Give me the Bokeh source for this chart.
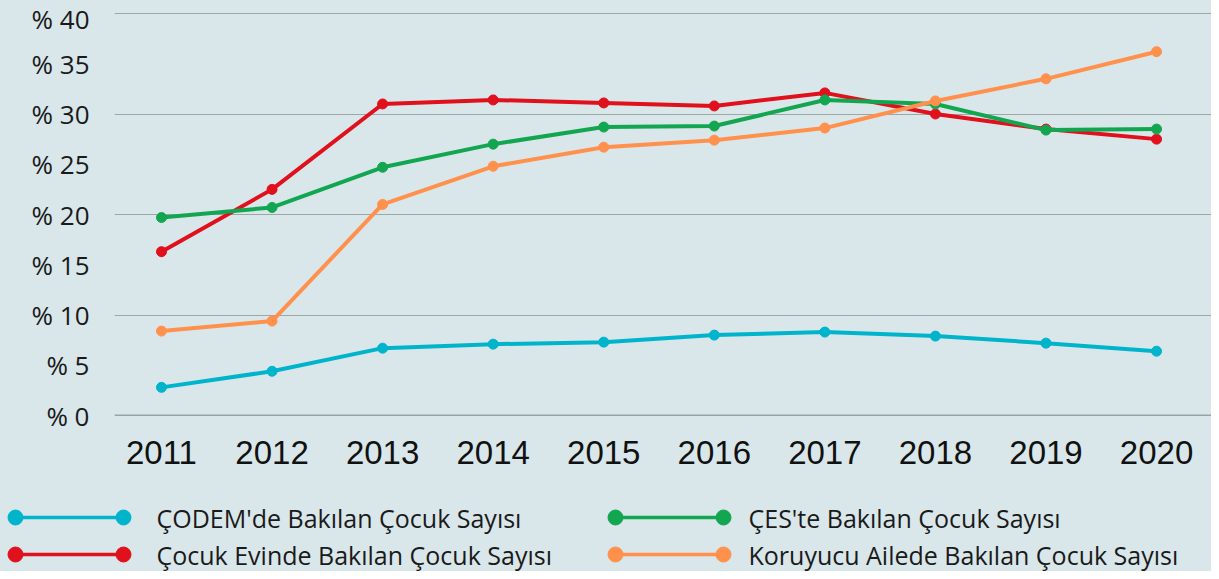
from bokeh.plotting import figure
from bokeh.models import Range1d, FixedTicker, Span
from bokeh.layouts import column
from bokeh.core.properties import value
from bokeh.embed import file_html
from bokeh.resources import INLINE

years = [2011, 2012, 2013, 2014, 2015, 2016, 2017, 2018, 2019, 2020]
codem = [2.8, 4.4, 6.7, 7.1, 7.3, 8.0, 8.3, 7.9, 7.2, 6.4]
ces = [19.7, 20.7, 24.7, 27.0, 28.7, 28.8, 31.4, 31.0, 28.4, 28.5]
cocuk_evi = [16.3, 22.5, 31.0, 31.4, 31.1, 30.8, 32.1, 30.0, 28.5, 27.5]
koruyucu = [8.4, 9.4, 21.0, 24.8, 26.7, 27.4, 28.6, 31.3, 33.5, 36.2]
y_ticks = [0, 5, 10, 15, 20, 25, 30, 35, 40]
grid_ticks = [10, 20, 30, 40]

names = ["ÇODEM'de Bakılan Çocuk Sayısı", "Çocuk Evinde Bakılan Çocuk Sayısı",
         "ÇES'te Bakılan Çocuk Sayısı", "Koruyucu Ailede Bakılan Çocuk Sayısı"]
colors = ["#00b4cb", "#e0101c", "#13a651", "#ff914d"]
series = [codem, cocuk_evi, ces, koruyucu]

BG = "#d9e7ea"
W = 1211
H1 = 483
H2 = 88

p = figure(width=W, height=H1, output_backend="svg", toolbar_location=None,
           x_range=Range1d(2010.575, 2020.497), y_range=Range1d(0, 40.2),
           min_border_left=114, min_border_right=0, min_border_top=11, min_border_bottom=68)
p.frame_align = False
p.background_fill_color = BG
p.border_fill_color = BG
p.outline_line_color = None

p.xaxis.ticker = FixedTicker(ticks=years)
p.xaxis.major_label_overrides = {y: str(y) for y in years}
p.xaxis.axis_line_color = None
p.xaxis.major_tick_line_color = None
p.xaxis.minor_tick_line_color = None
p.xaxis.major_label_standoff = 19
p.xaxis.major_label_text_font = "Liberation Sans"
p.xaxis.major_label_text_font_size = "33px"
p.xaxis.major_label_text_color = "#111111"

p.yaxis.ticker = FixedTicker(ticks=y_ticks)
p.yaxis.major_label_overrides = {t: "% " + str(t) for t in y_ticks}
p.yaxis.axis_line_color = None
p.yaxis.major_tick_line_color = None
p.yaxis.minor_tick_line_color = None
p.yaxis.major_label_standoff = 19
p.yaxis.major_label_text_font = "Open Sans"
p.yaxis.major_label_text_font_size = "26px"
p.yaxis.major_label_text_color = "#1a1a1a"

p.xgrid.grid_line_color = None
p.ygrid.ticker = FixedTicker(ticks=grid_ticks)
p.ygrid.grid_line_color = "#9ba8a5"
p.ygrid.grid_line_width = 1.2
p.add_layout(Span(location=0, dimension="width", line_color="#56625f", line_width=1.5))

for vals, c in zip(series, colors):
    p.line(years, vals, line_color=c, line_width=4)
    p.scatter(years, vals, size=10, color=c)

# legend figure
lg = figure(width=W, height=H2, output_backend="svg", toolbar_location=None,
            x_axis_type=None, y_axis_type=None,
            x_range=Range1d(0, W), y_range=Range1d(H2, 0),
            min_border_left=0, min_border_right=0, min_border_top=0, min_border_bottom=0)
lg.frame_align = False
lg.background_fill_color = BG
lg.border_fill_color = BG
lg.outline_line_color = None
lg.grid.visible = False

col_x = [15, 615]
text_x = [156, 748]
row_y = [34, 71]
seg = 108
for i, (name, c) in enumerate(zip(names, colors)):
    x0 = col_x[i // 2]
    y0 = row_y[i % 2]
    lg.line([x0, x0 + seg], [y0, y0], line_color=c, line_width=3.5)
    lg.scatter([x0, x0 + seg], [y0, y0], size=15, color=c)
    lg.text([text_x[i // 2]], [y0], text=[name], text_baseline="middle", text_align="left",
            text_font=value("Open Sans"), text_font_size="25px", text_color="#1a1a1a")

layout = column(p, lg, spacing=0)
layout.background = BG
open("out.html", "w").write(file_html(layout, INLINE))
